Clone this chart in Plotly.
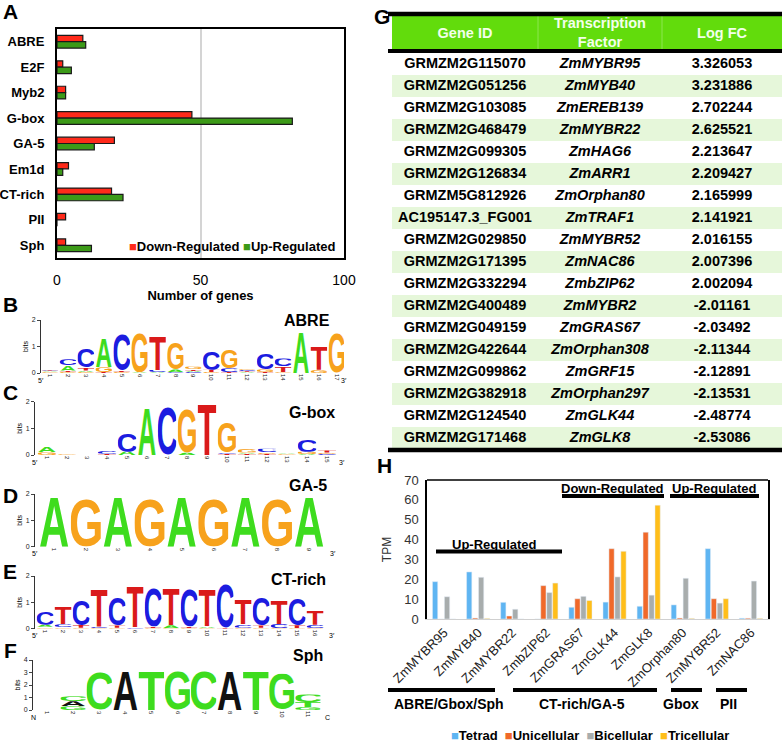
import base64
import plotly.graph_objects as go

W, H = 782, 742
FONT = "Liberation Sans, Arial, sans-serif"

# ---- panel A: motif counts
motifs = ["ABRE", "E2F", "Myb2", "G-box", "GA-5", "Em1d", "CT-rich", "PII", "Sph"]
down_counts = [9, 2, 3, 47, 20, 4, 19, 3, 3]
up_counts = [10, 5, 3, 82, 13, 2, 23, 0, 12]

# ---- panel G: table
table_header = ["Gene ID", "Transcription<br>Factor", "Log FC"]
gene_ids = ["GRMZM2G115070", "GRMZM2G051256", "GRMZM2G103085", "GRMZM2G468479",
            "GRMZM2G099305", "GRMZM2G126834", "GRMZM5G812926", "AC195147.3_FG001",
            "GRMZM2G029850", "GRMZM2G171395", "GRMZM2G332294", "GRMZM2G400489",
            "GRMZM2G049159", "GRMZM2G422644", "GRMZM2G099862", "GRMZM2G382918",
            "GRMZM2G124540", "GRMZM2G171468"]
tf_names = ["ZmMYBR95", "ZmMYB40", "ZmEREB139", "ZmMYBR22", "ZmHAG6", "ZmARR1",
            "ZmOrphan80", "ZmTRAF1", "ZmMYBR52", "ZmNAC86", "ZmbZIP62", "ZmMYBR2",
            "ZmGRAS67", "ZmOrphan308", "ZmGRF15", "ZmOrphan297", "ZmGLK44", "ZmGLK8"]
log_fc = ["3.326053", "3.231886", "2.702244", "2.625521", "2.213647", "2.209427",
          "2.165999", "2.141921", "2.016155", "2.007396", "2.002094", "-2.01161",
          "-2.03492", "-2.11344", "-2.12891", "-2.13531", "-2.48774", "-2.53086"]

# ---- panel H: TPM by stage
h_genes = ["ZmMYBR95", "ZmMYB40", "ZmMYBR22", "ZmbZIP62", "ZmGRAS67",
           "ZmGLK44", "ZmGLK8", "ZmOrphan80", "ZmMYBR52", "ZmNAC86"]
tetrad = [18.8, 23.7, 8.4, 0, 5.9, 8.5, 6.4, 7.1, 35.4, 0.4]
unicellular = [0, 0.5, 1.5, 16.8, 10.2, 35.4, 43.7, 0.5, 10.2, 0.4]
bicellular = [11.2, 21.0, 4.9, 13.3, 11.4, 21.2, 12.0, 20.5, 8.0, 19.1]
tricellular = [0, 0.3, 0, 18.1, 9.3, 34.1, 57.3, 0.3, 10.2, 0.3]

# ---- logos: columns of (letter, bits), bottom to top
abre_logo = [
    [("G", 0.03), ("A", 0.03), ("C", 0.03), ("T", 0.03)],
    [("G", 0.04), ("T", 0.05), ("A", 0.2), ("C", 0.23)],
    [("G", 0.04), ("A", 0.05), ("T", 0.12), ("C", 0.7)],
    [("T", 0.04), ("G", 0.18), ("A", 1.1)],
    [("G", 0.04), ("T", 0.06), ("C", 1.4)],
    [("A", 0.03), ("G", 1.55)],
    [("A", 0.03), ("C", 0.08), ("T", 1.3)],
    [("C", 0.03), ("A", 0.1), ("G", 1.05)],
    [("C", 0.04), ("A", 0.04), ("T", 0.07), ("G", 0.1)],
    [("G", 0.04), ("T", 0.08), ("C", 0.72)],
    [("T", 0.04), ("C", 0.14), ("G", 0.7)],
    [("A", 0.03), ("T", 0.04), ("C", 0.05), ("G", 0.06)],
    [("T", 0.04), ("G", 0.1), ("C", 0.62)],
    [("G", 0.03), ("T", 0.22), ("C", 0.3)],
    [("A", 1.55)],
    [("G", 0.12), ("T", 0.9)],
    [("G", 1.55)],
]
gbox_logo = [
    [("G", 0.1), ("A", 0.2)],
    [("G", 0.03)],
    [],
    [("T", 0.05), ("C", 0.1)],
    [("A", 0.12), ("C", 0.7)],
    [("A", 1.8)],
    [("C", 1.85)],
    [("A", 0.08), ("G", 1.68)],
    [("T", 1.92)],
    [("T", 0.05), ("C", 0.06), ("G", 1.2)],
    [("T", 0.05), ("A", 0.04), ("G", 0.15)],
    [("T", 0.04), ("G", 0.06), ("C", 0.13)],
    [("G", 0.03), ("A", 0.03)],
    [("A", 0.04), ("G", 0.08), ("C", 0.45)],
    [("C", 0.04), ("G", 0.05), ("T", 0.08)],
]
ga5_logo = [[("A", 1.93)], [("G", 1.88)], [("A", 1.93)], [("G", 1.88)], [("A", 1.93)],
            [("G", 1.88)], [("A", 1.93)], [("G", 1.88)], [("A", 1.93)]]
ct_logo = [
    [("G", 0.07), ("A", 0.08), ("C", 0.5)],
    [("G", 0.05), ("C", 0.12), ("T", 0.65)],
    [("G", 0.04), ("T", 0.1), ("C", 1.0)],
    [("G", 0.03), ("C", 0.05), ("T", 1.45)],
    [("G", 0.04), ("T", 0.08), ("C", 1.1)],
    [("C", 0.06), ("T", 1.55)],
    [("G", 0.03), ("T", 0.05), ("C", 1.5)],
    [("G", 0.03), ("A", 0.1), ("T", 1.4)],
    [("G", 0.03), ("T", 0.05), ("C", 1.45)],
    [("G", 0.03), ("A", 0.07), ("T", 1.4)],
    [("T", 0.03), ("C", 1.7)],
    [("G", 0.04), ("C", 0.12), ("T", 0.95)],
    [("G", 0.04), ("T", 0.08), ("C", 1.1)],
    [("G", 0.03), ("C", 0.15), ("T", 0.9)],
    [("G", 0.03), ("T", 0.1), ("C", 1.05)],
    [("G", 0.03), ("C", 0.12), ("T", 0.55)],
]
sph_logo = [
    [],
    [("G", 0.3), ("A", 0.4), ("C", 0.4)],
    [("C", 3.1)], [("A", 3.2)], [("T", 3.15)], [("G", 3.2)],
    [("C", 3.15)], [("A", 3.2)], [("T", 3.15)], [("G", 2.9)],
    [("G", 0.25), ("T", 0.4), ("C", 0.6)],
]

NT_COLORS = {"A": "#3EDC1E", "C": "#1C1CE0", "G": "#F7A21C", "T": "#DA1A1A"}
SPH_COLORS = {"A": "#111111", "C": "#3EDC1E", "G": "#3EDC1E", "T": "#3EDC1E"}


def px(x):
    return x / W


def py(y):
    return 1 - y / H


# glyph box of bold sans letters at font-size 100
LETTER_BOX = {"A": (0, -71.6, 72.2, 71.6), "C": (4.7, -72.8, 62.5, 74),
              "G": (4.5, -72.8, 67.8, 74), "T": (2.2, -71.6, 56.7, 71.6)}
_uris = {}


def letter_uri(ch, color):
    key = (ch, color)
    if key not in _uris:
        x0, y0, w, h = LETTER_BOX[ch]
        svg = (f"<svg xmlns='http://www.w3.org/2000/svg' width='{w}' height='{h}' "
               f"viewBox='{x0} {y0} {w} {h}' preserveAspectRatio='none'>"
               f"<text x='0' y='0' font-family='Liberation Sans, Arial, sans-serif' "
               f"font-weight='bold' font-size='100' fill='{color}'>{ch}</text></svg>")
        _uris[key] = "data:image/svg+xml;base64," + base64.b64encode(svg.encode()).decode()
    return _uris[key]


fig = go.Figure()
images = []
annotations = []
shapes = []


def ann(text, x, y, size=13, bold=True, xanchor="center", **kw):
    annotations.append(dict(text=f"<b>{text}</b>" if bold else text, x=px(x), y=py(y),
                            xref="paper", yref="paper", showarrow=False, xanchor=xanchor,
                            yanchor="middle", font=dict(family=FONT, size=size, color="black"), **kw))


def hline(x0, x1, y, w=4, color="black"):
    shapes.append(dict(type="line", xref="paper", yref="paper", x0=px(x0), x1=px(x1),
                       y0=py(y), y1=py(y), line=dict(color=color, width=w)))


# ---- panel A
fig.add_trace(go.Bar(y=motifs, x=down_counts, orientation="h", name="Down-Regulated",
                     width=0.25, offset=-0.25, xaxis="x", yaxis="y", showlegend=False,
                     marker=dict(color="#FF2A1A", line=dict(color="#1a1a1a", width=1.2))))
fig.add_trace(go.Bar(y=motifs, x=up_counts, orientation="h", name="Up-Regulated",
                     width=0.25, offset=0, xaxis="x", yaxis="y", showlegend=False,
                     marker=dict(color="#3C9A18", line=dict(color="#1a1a1a", width=1.2))))

# ---- logos
logos = [
    (2, abre_logo, NT_COLORS, (41, 344), (0.5, 17.4), (320, 373), 2, "ABRE", (307, 320), ("5′", "3′"), 0.92),
    (3, gbox_logo, NT_COLORS, (35, 342), (0.4, 15.75), (401.7, 455), 2, "G-box", (312, 412), ("5′", "3′"), 0.92),
    (4, ga5_logo, NT_COLORS, (35, 333), (0.4, 9.75), (494, 546.7), 2, "GA-5", (308, 485), ("5′", "3′"), 0.95),
    (5, ct_logo, NT_COLORS, (35, 332), (0.44, 16.94), (576, 628.7), 2, "CT-rich", (298, 579), ("5′", "3′"), 0.93),
    (6, sph_logo, SPH_COLORS, (33, 327), (0.46, 11.73), (660, 710), 4, "Sph", (308, 655), ("N", "C"), 0.97),
]
extra_axes = {}
for n, cols, colors, xd, xr, yd, ymax, title, tpos, ends, lw in logos:
    pos = list(range(1, len(cols) + 1))
    fig.add_trace(go.Scatter(x=pos, y=[0] * len(pos), mode="markers", marker=dict(opacity=0),
                             hoverinfo="skip", showlegend=False, xaxis=f"x{n}", yaxis=f"y{n}"))
    for p, col in zip(pos, cols):
        base = 0
        for letter, bits in col:
            images.append(dict(source=letter_uri(letter, colors[letter]), xref=f"x{n}", yref=f"y{n}",
                               x=p - lw / 2, y=base + bits, sizex=lw, sizey=bits,
                               xanchor="left", yanchor="top", sizing="stretch", layer="above"))
            base += bits
    extra_axes[f"xaxis{n}"] = dict(domain=[px(xd[0]), px(xd[1])], range=list(xr), anchor=f"y{n}",
                                   tickmode="array", tickvals=pos, ticktext=[str(p) for p in pos],
                                   tickangle=90, tickfont=dict(family=FONT, size=6, color="#222"),
                                   showline=False, showgrid=False, zeroline=False, ticks="",
                                   automargin=False)
    extra_axes[f"yaxis{n}"] = dict(domain=[py(yd[1]), py(yd[0])], range=[0, ymax], anchor=f"x{n}",
                                   tickvals=list(range(ymax + 1)), ticks="outside", ticklen=3,
                                   tickfont=dict(family=FONT, size=7, color="#222"),
                                   showline=True, linecolor="#333", linewidth=0.8,
                                   showgrid=False, zeroline=False, automargin=False,
                                   title=dict(text="bits", font=dict(family=FONT, size=7), standoff=2))
    ann(title, tpos[0], tpos[1], size=16)
    ann(ends[0], xd[0], yd[1] + 7, size=7, bold=False)
    ann(ends[1], xd[1], yd[1] + 7, size=7, bold=False)

# ---- panel G: table drawn as heatmap cells + text
TBL_LEFT, TBL_TOP = 392, 15
col_edges = [0, 146, 270, 390]
row_h, head_h = 22, 38
n_rows = len(gene_ids)
row_edges = [0] + [head_h + row_h * i for i in range(n_rows + 1)]
row_mid = [(row_edges[i] + row_edges[i + 1]) / 2 for i in range(n_rows + 1)]
col_mid = [(col_edges[i] + col_edges[i + 1]) / 2 for i in range(3)]
shade = [[2, 2, 2]] + [[i % 2] * 3 for i in range(n_rows)]
fig.add_trace(go.Heatmap(z=shade, x=col_edges, y=row_edges, zmin=0, zmax=2, showscale=False,
                         colorscale=[[0, "white"], [0.5, "#E6F7DA"], [1, "#62DC0C"]],
                         hoverinfo="skip", xaxis="x8", yaxis="y8"))
fig.add_trace(go.Scatter(x=col_mid, y=[row_mid[0]] * 3, mode="text", hoverinfo="skip",
                         text=[f"<b>{t}</b>" for t in table_header], showlegend=False,
                         textfont=dict(family=FONT, size=14.5, color="#F2FFEA"),
                         xaxis="x8", yaxis="y8"))
for ci, (vals, fmt) in enumerate([(gene_ids, "<b>{}</b>"), (tf_names, "<b><i>{}</i></b>"),
                                  (log_fc, "<b>{}</b>")]):
    fig.add_trace(go.Scatter(x=[col_mid[ci]] * n_rows, y=row_mid[1:], mode="text",
                             text=[fmt.format(v) for v in vals], hoverinfo="skip", showlegend=False,
                             textfont=dict(family=FONT, size=14.5, color="black"),
                             xaxis="x8", yaxis="y8"))
tbl_bottom = TBL_TOP + row_edges[-1]
extra_axes["xaxis8"] = dict(domain=[px(TBL_LEFT), 1], range=[0, col_edges[-1]], anchor="y8",
                            visible=False, fixedrange=True, automargin=False)
extra_axes["yaxis8"] = dict(domain=[py(tbl_bottom), py(TBL_TOP)], range=[row_edges[-1], 0],
                            anchor="x8", visible=False, fixedrange=True, automargin=False)
for ce in col_edges[1:3]:
    shapes.append(dict(type="line", xref="x8", yref="y8", x0=ce, x1=ce, y0=0, y1=head_h,
                       line=dict(color="#8DE650", width=1)))
hline(TBL_LEFT - 4, 782, TBL_TOP - 1, 4.5)
hline(TBL_LEFT - 4, 782, TBL_TOP + head_h - 2, 4)
hline(TBL_LEFT - 4, 782, tbl_bottom + 1, 4.5)

# ---- panel H
for name, vals, color in [("Tetrad", tetrad, "#5FB5F2"), ("Unicellular", unicellular, "#F0692A"),
                          ("Bicellular", bicellular, "#A8ADAD"), ("Tricellular", tricellular, "#FFBE1A")]:
    fig.add_trace(go.Bar(x=h_genes, y=vals, name=name, marker=dict(color=color),
                         xaxis="x7", yaxis="y7", showlegend=False))
shapes.append(dict(type="line", xref="x7 domain", yref="y7 domain", x0=0, x1=1, y0=1, y1=1,
                   line=dict(color="black", width=1.5)))

ann("Up-Regulated", 494, 544)
hline(436, 562, 551.5)
ann("Down-Regulated", 612, 488)
hline(562, 664, 496)
ann("Up-Regulated", 714, 488)
hline(670, 759, 496)
for label, x0, x1, cx in [("ABRE/Gbox/Sph", 388, 495, 449), ("CT-rich/GA-5", 513, 657, 582),
                          ("Gbox", 671, 702, 681), ("PII", 716, 747, 728)]:
    hline(x0, x1, 690)
    ann(label, cx, 704, size=14)

ann("<span style='color:#5FB5F2'>■</span>Tetrad  <span style='color:#F0692A'>■</span>Unicellular  "
    "<span style='color:#A8ADAD'>■</span>Bicellular  <span style='color:#FFBE1A'>■</span>Tricellular",
    590, 735, size=13)
ann("<span style='color:#FF2A1A'>■</span>Down-Regulated <span style='color:#3C9A18'>■</span>Up-Regulated",
    232, 246, size=13)

# panel letters
for letter, x, y in [("A", 10, 12), ("B", 10, 304), ("C", 10, 392), ("D", 10, 495), ("E", 10, 571),
                     ("F", 10, 650), ("G", 382, 16), ("H", 384, 465)]:
    ann(letter, x, y, size=21)

fig.update_layout(
    width=W, height=H, margin=dict(l=0, r=0, t=0, b=0, autoexpand=False),
    paper_bgcolor="white", plot_bgcolor="white",
    barmode="group", bargap=0.3, bargroupgap=0.12,
    font=dict(family=FONT, color="black"),
    xaxis=dict(domain=[px(57), px(344)], range=[0, 100], anchor="y", tickvals=[0, 50, 100],
               showgrid=True, gridcolor="#D4D4D4", gridwidth=1.5, zeroline=False,
               showline=True, mirror=True, linecolor="black", linewidth=2,
               tickfont=dict(family=FONT, size=14), ticklabelstandoff=8, automargin=False,
               tickprefix="<b>", ticksuffix="</b>",
               title=dict(text="<b>Number of genes</b>", font=dict(family=FONT, size=13), standoff=2)),
    yaxis=dict(domain=[py(258), py(29)], anchor="x", categoryorder="array", categoryarray=motifs,
               autorange="reversed", showline=True, mirror=True, linecolor="black", linewidth=2,
               tickfont=dict(family=FONT, size=13), ticklabelstandoff=8, automargin=False,
               tickprefix="<b>", ticksuffix="</b>", showgrid=False),
    xaxis7=dict(domain=[px(427), px(768)], anchor="y7", tickangle=-45, automargin=False,
                tickfont=dict(family=FONT, size=13, color="#222"),
                showline=True, linecolor="#D0D0D0", linewidth=1, ticks=""),
    yaxis7=dict(domain=[py(619), py(480)], anchor="x7", range=[0, 70], dtick=10, automargin=False,
                showline=True, mirror=True, linecolor="black", linewidth=1.5, showgrid=False,
                zeroline=False, ticks="", tickfont=dict(family=FONT, size=13, color="#333"),
                ticklabelstandoff=4,
                title=dict(text="TPM", font=dict(family=FONT, size=12, color="#333"), standoff=10)),
    **extra_axes,
    images=images, annotations=annotations, shapes=shapes,
)

fig.write_html("out.html", config={"displayModeBar": False},
               post_script="document.body.style.margin='0';")
